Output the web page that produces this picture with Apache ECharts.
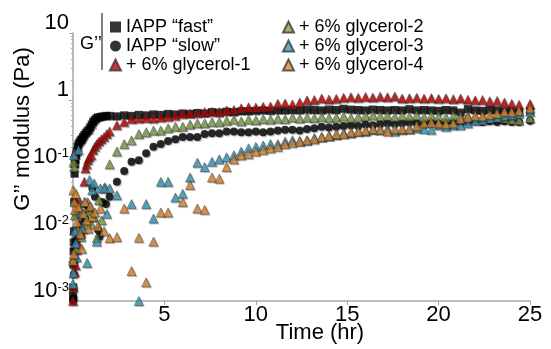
<!DOCTYPE html>
<html>
<head>
<meta charset="utf-8">
<script src="https://cdn.jsdelivr.net/npm/echarts@6/dist/echarts.min.js"></script>
<style>
  html, body { margin: 0; padding: 0; background: #fff; }
  #chart { width: 551px; height: 349px; }
</style>
</head>
<body>
<div id="chart"></div>
<script>
// regular sampling times (hr) after the first two hours
const gridTime = [2.0, 2.4, 2.8, 3.2, 3.6, 4.0, 4.4, 4.8, 5.2, 5.6,
  6.0, 6.4, 6.8, 7.2, 7.6, 8.0, 8.4, 8.8, 9.2, 9.6,
  10.0, 10.4, 10.8, 11.2, 11.6, 12.0, 12.4, 12.8, 13.2, 13.6,
  14.0, 14.4, 14.8, 15.2, 15.6, 16.0, 16.4, 16.8, 17.2, 17.6,
  18.0, 18.4, 18.8, 19.2, 19.6, 20.0, 20.4, 20.8, 21.2, 21.6,
  22.0, 22.4, 22.8, 23.2, 23.6, 24.0, 24.4, 25.0];

// IAPP "fast"
const fastEarlyTime = [0.00, 0.01, 0.02, 0.03, 0.04, 0.05, 0.06, 0.08, 0.10, 0.13, 0.16, 0.20, 0.25, 0.30, 0.36, 0.42, 0.48, 0.55, 0.62, 0.70, 0.78, 0.86, 0.94, 1.02, 1.10, 1.18, 1.27, 1.36, 1.50, 1.65, 1.82];
const fastEarlyVal = [0.0012, 0.0016, 0.0035, 0.0055, 0.0075, 0.011, 0.03, 0.08, 0.11, 0.13, 0.15, 0.17, 0.20, 0.22, 0.235, 0.25, 0.26, 0.28, 0.30, 0.32, 0.34, 0.36, 0.39, 0.43, 0.47, 0.50, 0.53, 0.55, 0.56, 0.57, 0.58];
const fastGrid = [0.58, 0.57, 0.59, 0.58, 0.60, 0.59, 0.61, 0.60, 0.62, 0.61,
  0.63, 0.62, 0.64, 0.63, 0.66, 0.65, 0.67, 0.66, 0.68, 0.68,
  0.69, 0.70, 0.69, 0.70, 0.70, 0.71, 0.70, 0.72, 0.71, 0.70,
  0.72, 0.71, 0.74, 0.72, 0.71, 0.70, 0.72, 0.71, 0.70, 0.71,
  0.70, 0.73, 0.70, 0.71, 0.70, 0.69, 0.71, 0.70, 0.65, 0.73,
  0.70, 0.69, 0.71, 0.70, 0.68, 0.69, 0.67, 0.68];

// IAPP "slow"
const slowEarlyTime = [0.00, 0.02, 0.04, 0.07, 0.10, 0.15, 0.22, 0.30, 0.40, 0.52, 0.65, 0.80, 0.95, 1.06, 1.20, 1.38, 1.45, 1.60, 1.80];
const slowEarlyVal = [0.001, 0.0011, 0.0025, 0.004, 0.006, 0.008, 0.011, 0.009, 0.014, 0.02, 0.017, 0.026, 0.022, 0.048, 0.036, 0.0115, 0.0091, 0.03, 0.028];
const slowGrid = [0.036, 0.06, 0.087, 0.12, 0.126, 0.16, 0.20, 0.22, 0.245, 0.26,
  0.28, 0.28, 0.28, 0.31, 0.32, 0.32, 0.34, 0.34, 0.33, 0.33,
  0.34, 0.33, 0.34, 0.35, 0.36, 0.36, 0.35, 0.37, 0.38, 0.40,
  0.39, 0.40, 0.41, 0.42, 0.41, 0.43, 0.42, 0.44, 0.45, 0.44,
  0.45, 0.46, 0.45, 0.44, 0.46, 0.45, 0.46, 0.47, 0.46, 0.47,
  0.48, 0.47, 0.48, 0.47, 0.48, 0.47, 0.47, 0.49];

// + 6% glycerol-1
const g1EarlyTime = [0.00, 0.03, 0.07, 0.10, 0.15, 0.20, 0.25, 0.30, 0.36, 0.45, 0.55, 0.62, 0.68, 0.75, 0.82, 0.90, 1.00, 1.10, 1.20, 1.30, 1.42, 1.55, 1.70, 1.85];
const g1EarlyVal = [0.001, 0.0016, 0.16, 0.0027, 0.0034, 0.0058, 0.02, 0.007, 0.03, 0.0104, 0.012, 0.06, 0.095, 0.11, 0.127, 0.14, 0.15, 0.18, 0.20, 0.22, 0.24, 0.26, 0.28, 0.31];
const g1Grid = [0.34, 0.42, 0.47, 0.52, 0.53, 0.54, 0.53, 0.55, 0.56, 0.58,
  0.62, 0.63, 0.64, 0.66, 0.67, 0.66, 0.70, 0.71, 0.75, 0.78,
  0.77, 0.79, 0.80, 0.88, 0.89, 0.86, 0.92, 0.99, 1.00, 1.05,
  1.02, 1.04, 1.08, 1.10, 1.08, 1.11, 1.09, 1.12, 1.10, 1.13,
  1.05, 1.06, 1.08, 1.05, 1.07, 1.04, 1.06, 1.03, 1.05, 1.01,
  0.99, 1.00, 0.96, 0.97, 0.92, 0.88, 0.85, 0.87];

// + 6% glycerol-2
const g2EarlyTime = [0.00, 0.03, 0.06, 0.10, 0.16, 0.25, 0.35, 0.45, 0.55, 0.66, 0.80, 0.90, 1.00, 1.15, 1.30, 1.42, 1.57, 1.75];
const g2EarlyVal = [0.0043, 0.12, 0.10, 0.019, 0.006, 0.012, 0.025, 0.009, 0.02, 0.014, 0.03, 0.022, 0.014, 0.018, 0.0087, 0.032, 0.016, 0.05];
const g2Grid = [0.11, 0.17, 0.22, 0.25, 0.31, 0.33, 0.35, 0.35, 0.38, 0.40,
  0.40, 0.43, 0.45, 0.45, 0.47, 0.47, 0.49, 0.51, 0.48, 0.51,
  0.50, 0.52, 0.51, 0.53, 0.52, 0.55, 0.53, 0.55, 0.54, 0.56,
  0.54, 0.55, 0.57, 0.54, 0.56, 0.58, 0.59, 0.57, 0.58, 0.56,
  0.58, 0.57, 0.59, 0.56, 0.58, 0.57, 0.55, 0.58, 0.56, 0.57,
  0.55, 0.56, 0.54, 0.55, 0.53, 0.51, 0.50, 0.54];

// + 6% glycerol-3
const g3EarlyTime = [0.00, 0.02, 0.05, 0.10, 0.15, 0.20, 0.30, 0.40, 0.50, 0.62, 0.77, 0.90, 1.05, 1.15, 1.30, 1.50, 1.70, 1.85];
const g3EarlyVal = [0.0018, 0.0026, 0.15, 0.011, 0.0073, 0.0045, 0.18, 0.021, 0.012, 0.03, 0.0037, 0.064, 0.045, 0.057, 0.0077, 0.048, 0.048, 0.02];
const g3Grid = [0.048, 0.038, '-', 0.028, 0.001, 0.028, 0.017, 0.06, 0.06, 0.035,
  0.04, 0.07, 0.116, 0.10, 0.12, 0.13, 0.14, 0.15, 0.17, 0.19,
  0.20, 0.21, 0.22, 0.22, 0.24, 0.25, 0.245, 0.25, 0.27, 0.28,
  0.29, 0.30, 0.32, 0.32, 0.34, 0.34, 0.36, 0.36, 0.37, 0.34,
  0.36, 0.37, 0.38, 0.37, 0.36, 0.42, 0.40, 0.42, 0.42, 0.45,
  0.49, 0.50, 0.53, 0.55, 0.58, 0.60, 0.63, 0.67];

// + 6% glycerol-4
const g4EarlyTime = [0.00, 0.02, 0.04, 0.07, 0.10, 0.15, 0.22, 0.30, 0.40, 0.48, 0.58, 0.66, 0.75, 0.84, 0.95, 1.05, 1.20, 1.35, 1.50, 1.70];
const g4EarlyVal = [0.004, 0.045, 0.005, 0.03, 0.023, 0.04, 0.015, 0.025, 0.01, 0.006, 0.02, 0.03, 0.016, 0.012, 0.026, 0.018, 0.021, 0.013, 0.024, 0.011];
const g4Grid = [0.0087, 0.009, 0.024, 0.0028, 0.0088, 0.0019, 0.0077, 0.021, 0.021, '-',
  0.03, 0.054, 0.024, 0.023, 0.07, 0.067, 0.10, 0.13, 0.15, 0.156,
  0.17, 0.18, 0.19, 0.20, 0.22, 0.23, 0.24, 0.25, 0.26, 0.28,
  0.29, 0.31, 0.31, 0.33, 0.34, 0.35, 0.37, 0.36, 0.34, 0.37,
  0.37, 0.37, 0.41, 0.45, 0.46, 0.45, 0.44, 0.45, 0.52, 0.55,
  0.58, 0.57, 0.60, 0.63, 0.67, 0.66, 0.69, 0.75];

const seriesNames = ["IAPP \u201cfast\u201d", "IAPP \u201cslow\u201d", "+ 6% glycerol-1", "+ 6% glycerol-2", "+ 6% glycerol-3", "+ 6% glycerol-4"];

// axis ticks
const xTicks = [0, 5, 10, 15, 20, 25];
const yMajorTicks = [0.001, 0.01, 0.1, 1, 10];
const yMinorTicks = [0.002, 0.003, 0.004, 0.005, 0.006, 0.007, 0.008, 0.009,
  0.02, 0.03, 0.04, 0.05, 0.06, 0.07, 0.08, 0.09,
  0.2, 0.3, 0.4, 0.5, 0.6, 0.7, 0.8, 0.9,
  2, 3, 4, 5, 6, 7, 8, 9];
const yTickExp = { 0.001: -3, 0.01: -2, 0.1: -1, 1: 0, 10: 1 };

const FONT = "'Liberation Sans', Arial, sans-serif";

const pairs = (early, earlyV, grid) =>
  early.map((t, i) => [t, earlyV[i]]).concat(gridTime.map((t, i) => [t, grid[i]]));

const chart = echarts.init(document.getElementById("chart"), null, { renderer: "canvas" });

const shadow = { shadowBlur: 1, shadowColor: "rgba(0,0,0,0.35)", shadowOffsetX: 1, shadowOffsetY: 1 };
const tri = (color) => ({ color, borderColor: "#3a3a3a", borderWidth: 0.6, ...shadow });
const legendText = { fontSize: 18, lineHeight: 18, color: "#000", fontFamily: FONT };

chart.setOption({
  backgroundColor: "#fff",
  animation: false,
  textStyle: { fontFamily: FONT },
  grid: { left: 73, right: 21, top: 33, bottom: 48, containLabel: false },
  legend: [
    {
      data: seriesNames.slice(0, 3),
      orient: "vertical",
      left: 104, top: 13,
      itemWidth: 11, itemHeight: 11, itemGap: 1,
      textStyle: legendText,
      selectedMode: false
    },
    {
      data: seriesNames.slice(3),
      orient: "vertical",
      left: 277, top: 13,
      itemWidth: 11, itemHeight: 11, itemGap: 1,
      textStyle: legendText,
      selectedMode: false
    }
  ],
  graphic: [
    { type: "text", left: 80, top: 35, style: { text: "G\u2019\u2019", font: "18px " + FONT, fill: "#000" } },
    { type: "line", shape: { x1: 102, y1: 13, x2: 102, y2: 70 }, style: { stroke: "#000", lineWidth: 1 } },
    { type: "text", x: 320, y: 333, style: { text: "Time (hr)", font: "22px " + FONT, fill: "#000", align: "center", verticalAlign: "middle" } },
    { type: "text", x: 23, y: 129, rotation: Math.PI / 2, style: { text: "G\u2019\u2019 modulus (Pa)", font: "22px " + FONT, fill: "#000", align: "center", verticalAlign: "middle" } }
  ],
  xAxis: {
    type: "value",
    min: 0, max: 25, interval: 5,
    axisLine: { show: true, lineStyle: { color: "#a6a6a6", width: 1.5 } },
    axisTick: { show: true, length: 4, lineStyle: { color: "#a6a6a6" }, customValues: xTicks },
    axisLabel: {
      fontSize: 22, color: "#000", margin: 3, fontFamily: FONT,
      formatter: (v) => (v === 0 ? "" : String(v))
    },
    splitLine: { show: false }
  },
  yAxis: [
    {
      type: "log", logBase: 10, min: 0.001, max: 10,
      axisLine: { show: true, lineStyle: { color: "#a6a6a6", width: 1.5 } },
      axisTick: { show: true, length: 4, lineStyle: { color: "#a6a6a6" }, customValues: yMajorTicks },
      axisLabel: {
        customValues: yMajorTicks,
        margin: 4,
        verticalAlign: "bottom",
        color: "#000",
        formatter: (v) => {
          const e = yTickExp[v];
          if (e === 1) return "{b|10}";
          if (e === 0) return "{b|1}";
          return "{b|10}{s|" + e + "}";
        },
        rich: {
          b: { fontSize: 22, lineHeight: 20, fontFamily: FONT, color: "#000" },
          s: { fontSize: 13, lineHeight: 10, verticalAlign: "top", fontFamily: FONT, color: "#000" }
        }
      },
      splitLine: { show: false }
    },
    {
      type: "log", logBase: 10, min: 0.001, max: 10, position: "left",
      axisLine: { show: false },
      axisTick: { show: true, length: 2, lineStyle: { color: "#a6a6a6" }, customValues: yMinorTicks },
      axisLabel: { show: false },
      splitLine: { show: false }
    }
  ],
  series: [
    { name: seriesNames[0], type: "scatter", symbol: "rect", symbolSize: 8,
      itemStyle: { color: "#000", ...shadow }, data: pairs(fastEarlyTime, fastEarlyVal, fastGrid) },
    { name: seriesNames[1], type: "scatter", symbol: "circle", symbolSize: 8,
      itemStyle: { color: "#000", ...shadow }, data: pairs(slowEarlyTime, slowEarlyVal, slowGrid) },
    { name: seriesNames[2], type: "scatter", symbol: "triangle", symbolSize: 9,
      itemStyle: tri("#c00000"), data: pairs(g1EarlyTime, g1EarlyVal, g1Grid) },
    { name: seriesNames[3], type: "scatter", symbol: "triangle", symbolSize: 9,
      itemStyle: tri("#7f9f48"), data: pairs(g2EarlyTime, g2EarlyVal, g2Grid) },
    { name: seriesNames[4], type: "scatter", symbol: "triangle", symbolSize: 9,
      itemStyle: tri("#3a9dc1"), data: pairs(g3EarlyTime, g3EarlyVal, g3Grid) },
    { name: seriesNames[5], type: "scatter", symbol: "triangle", symbolSize: 9,
      itemStyle: tri("#e08a2e"), data: pairs(g4EarlyTime, g4EarlyVal, g4Grid) }
  ]
});
</script>
</body>
</html>
